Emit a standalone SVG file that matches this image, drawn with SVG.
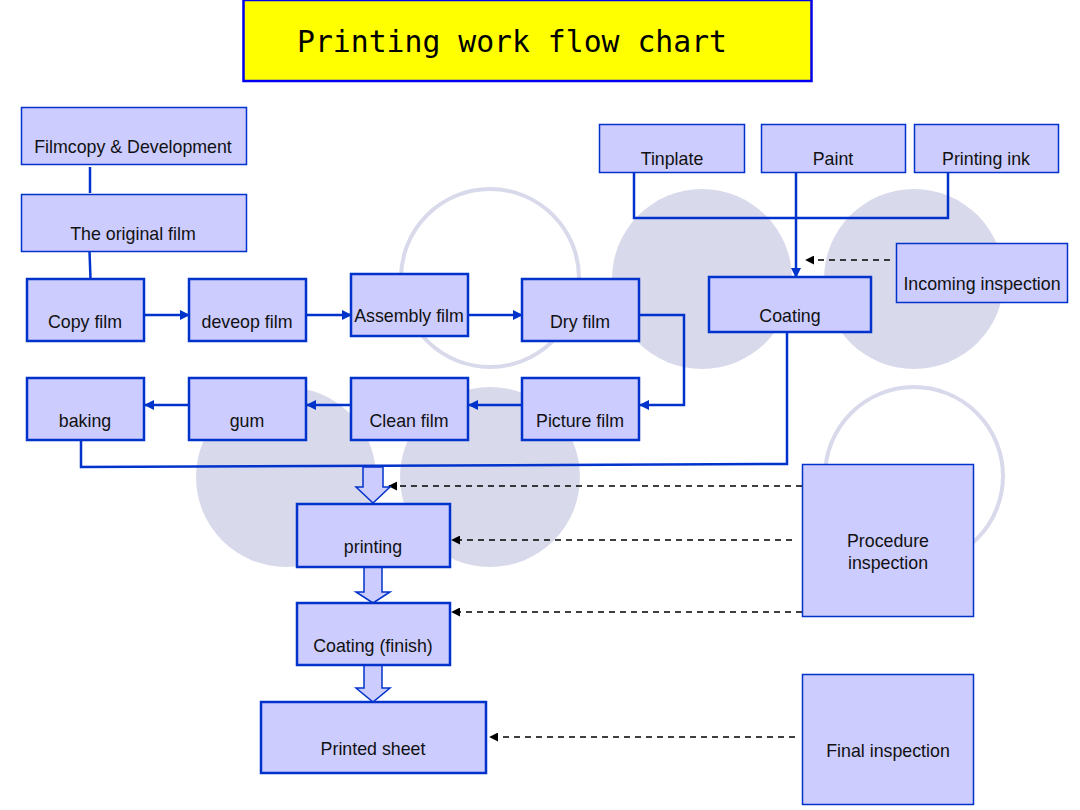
<svg xmlns="http://www.w3.org/2000/svg" width="1080" height="810" viewBox="0 0 1080 810">
<style>
.bg{fill:#d9d9ec}
.ring{fill:none;stroke:#d9d9ec;stroke-width:4}
.box{fill:#ccccff;stroke:#0033cc;stroke-width:1.5}
.boxb{fill:#ccccff;stroke:#0033cc;stroke-width:2.5}
text{font-family:"Liberation Sans",Arial,sans-serif;font-size:17.8px;fill:#111;text-anchor:middle}
.ln{fill:none;stroke:#0033cc;stroke-width:2.5}
.dash{fill:none;stroke:#000;stroke-width:1.5;stroke-dasharray:6 5}
.blk{fill:#ccccff;stroke:#0033cc;stroke-width:1.5}
</style>
<defs>
<marker id="ab" viewBox="0 0 10 10" refX="9" refY="5" markerWidth="4" markerHeight="4" orient="auto" markerUnits="strokeWidth"><path d="M0,0 L10,5 L0,10 z" fill="#0033cc"/></marker>
<marker id="ak" viewBox="0 0 10 10" refX="9" refY="5" markerWidth="6" markerHeight="6" orient="auto" markerUnits="strokeWidth"><path d="M0,0 L10,5 L0,10 z" fill="#000"/></marker>
</defs>
<rect width="1080" height="810" fill="#fff"/>
<g id="background">
<circle class="ring" cx="490" cy="278" r="89"/>
<circle class="bg" cx="702" cy="279" r="90"/>
<circle class="bg" cx="914" cy="279" r="90"/>
<circle class="bg" cx="286" cy="477" r="90"/>
<circle class="bg" cx="490" cy="477" r="90"/>
<circle class="ring" cx="914" cy="476" r="89"/>
</g>
<g id="title">
<rect x="243.5" y="0" width="568" height="81" fill="#ffff00" stroke="#0000ee" stroke-width="2.5"/>
<text x="512" y="52" style="font-family:'DejaVu Sans Mono','Liberation Mono',monospace;font-size:31px;fill:#000" textLength="430" lengthAdjust="spacingAndGlyphs">Printing work flow chart</text>
</g>
<g id="connectors">
<line class="ln" x1="90" y1="167" x2="90" y2="193" stroke-width="3"/>
<line class="ln" x1="89.5" y1="251" x2="90.5" y2="279" stroke-width="2"/>
<line class="ln" x1="144" y1="315" x2="189" y2="315" marker-end="url(#ab)"/>
<line class="ln" x1="306" y1="315" x2="351" y2="315" marker-end="url(#ab)"/>
<line class="ln" x1="468" y1="315" x2="522" y2="315" marker-end="url(#ab)"/>
<polyline class="ln" points="639,315 684,315 684,405 640,405" marker-end="url(#ab)"/>
<line class="ln" x1="522" y1="405" x2="469" y2="405" marker-end="url(#ab)"/>
<line class="ln" x1="351" y1="405" x2="307" y2="405" marker-end="url(#ab)"/>
<line class="ln" x1="189" y1="405" x2="145" y2="405" marker-end="url(#ab)"/>
<polyline class="ln" points="81,440 81,467 787,464 787,332" stroke-width="2"/>
<polyline class="ln" points="634,172 634,218 948,218 948,172"/>
<line class="ln" x1="796" y1="172" x2="796" y2="277" marker-end="url(#ab)"/>
<line class="dash" x1="890" y1="260" x2="806" y2="260" marker-end="url(#ak)"/>
<line class="dash" x1="802" y1="486" x2="389" y2="486" marker-end="url(#ak)"/>
<line class="dash" x1="792" y1="540" x2="452" y2="540" marker-end="url(#ak)"/>
<line class="dash" x1="802" y1="612" x2="452" y2="612" marker-end="url(#ak)"/>
<line class="dash" x1="795" y1="737" x2="490" y2="737" marker-end="url(#ak)"/>
<path class="blk" d="M363,467 L383,467 L383,487 L390,487 L373,503 L356,487 L363,487 Z"/>
<path class="blk" d="M364,567 L382,567 L382,592 L390,592 L373,603 L356,592 L364,592 Z"/>
<path class="blk" d="M364,665 L382,665 L382,688 L390,688 L373,702 L356,688 L364,688 Z"/>
</g>
<g id="n-filmcopy"><rect class="box" x="21.5" y="107.5" width="225" height="57"/><text x="133" y="153">Filmcopy &amp; Development</text></g>
<g id="n-original"><rect class="box" x="21.5" y="194.5" width="225" height="57"/><text x="133" y="240">The original film</text></g>
<g id="n-copy"><rect class="boxb" x="27" y="279" width="117" height="62"/><text x="85" y="328">Copy film</text></g>
<g id="n-deveop"><rect class="boxb" x="189" y="279" width="117" height="62"/><text x="247" y="328">deveop film</text></g>
<g id="n-assembly"><rect class="boxb" x="351" y="274" width="117" height="62"/><text x="409" y="322">Assembly film</text></g>
<g id="n-dry"><rect class="boxb" x="522" y="279" width="117" height="62"/><text x="580" y="328">Dry film</text></g>
<g id="n-baking"><rect class="boxb" x="27" y="378" width="117" height="62"/><text x="85" y="427">baking</text></g>
<g id="n-gum"><rect class="boxb" x="189" y="378" width="117" height="62"/><text x="247" y="427">gum</text></g>
<g id="n-clean"><rect class="boxb" x="351" y="378" width="117" height="62"/><text x="409" y="427">Clean film</text></g>
<g id="n-picture"><rect class="boxb" x="522" y="378" width="117" height="62"/><text x="580" y="427">Picture film</text></g>
<g id="n-tinplate"><rect class="box" x="599.5" y="124.5" width="145" height="48"/><text x="672" y="165">Tinplate</text></g>
<g id="n-paint"><rect class="box" x="761.5" y="124.5" width="144" height="48"/><text x="833" y="165">Paint</text></g>
<g id="n-ink"><rect class="box" x="914.5" y="124.5" width="144" height="48"/><text x="986" y="165">Printing ink</text></g>
<g id="n-incoming"><rect class="box" x="896.5" y="243.5" width="171" height="59"/><text x="982" y="290">Incoming inspection</text></g>
<g id="n-coating"><rect class="boxb" x="709" y="277" width="162" height="55"/><text x="790" y="322">Coating</text></g>
<g id="n-printing"><rect class="boxb" x="297" y="504" width="153" height="63"/><text x="373" y="553">printing</text></g>
<g id="n-finish"><rect class="boxb" x="297" y="603" width="153" height="62"/><text x="373" y="652">Coating (finish)</text></g>
<g id="n-sheet"><rect class="boxb" x="261" y="702" width="225" height="71"/><text x="373" y="755">Printed sheet</text></g>
<g id="n-procedure"><rect class="box" x="802.5" y="464.5" width="171" height="152"/><text x="888" y="547">Procedure</text><text x="888" y="569">inspection</text></g>
<g id="n-final"><rect class="box" x="802.5" y="674.5" width="171" height="130"/><text x="888" y="757">Final inspection</text></g>
</svg>
